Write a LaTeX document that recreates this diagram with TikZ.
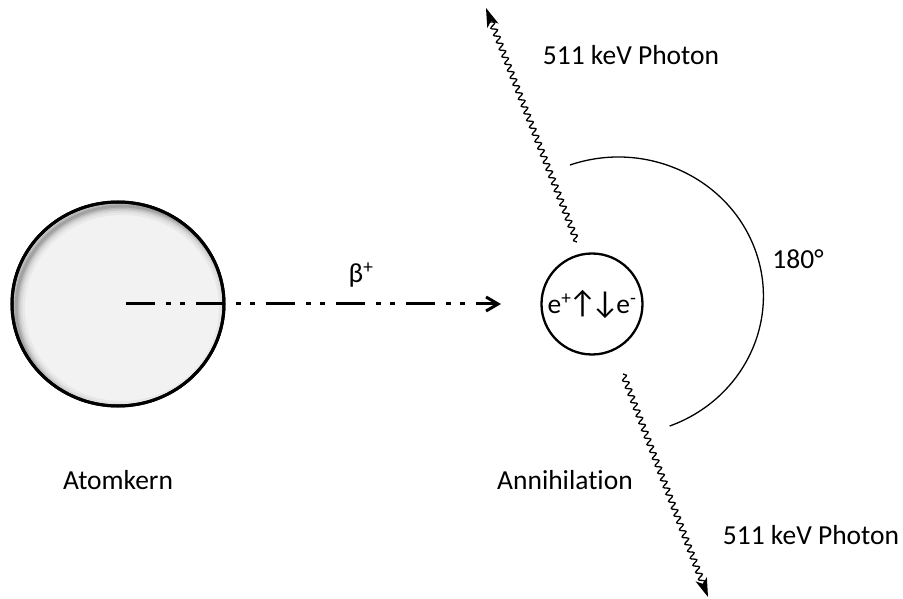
\documentclass[tikz,border=0pt]{standalone}
\usepackage{fontspec}
\setmainfont[Ligatures=NoCommon]{Carlito}
\newfontfamily\arrowfont{Lato}
\usetikzlibrary{arrows.meta,decorations.pathmorphing,shapes.geometric}
\begin{document}
\begin{tikzpicture}[x=1pt,y=1pt,
  lbl/.style={font=\fontsize{27.5}{33}\selectfont, inner sep=0pt, anchor=base},
  photon/.style={line width=1.3pt, decorate,
    decoration={snake, amplitude=2.8pt, segment length=7.6pt, post length=10pt},
    -{Stealth[length=19pt,width=12pt,inset=5pt]}},
  betaline/.style={line width=3pt, dash pattern=on 29pt off 11pt on 5pt off 9pt on 5pt off 11pt,
    -{Straight Barb[length=12pt,width=14pt,line width=3pt]}},
  nucleusshape/.style={ellipse, draw, line width=3pt, fill={rgb,255:red,242;green,242;blue,242},
    minimum width=212pt, minimum height=204pt, inner sep=0pt},
  annshape/.style={circle, draw, line width=2.3pt, minimum size=101pt, inner sep=0pt,
    font=\fontsize{27.5}{33}\selectfont},
  arcline/.style={line width=1.3pt}
]
\useasboundingbox (0,0) rectangle (903,598);
\fill[white] (0,0) rectangle (903,598);

% nucleus
\node[nucleusshape] (nucleus) at (118,294) {};
\begin{scope}
  \clip (118,294) ellipse[x radius=104.5pt, y radius=100.5pt];
  \foreach \w/\o in {18/0.04, 13/0.05, 9/0.07, 6/0.09, 3/0.12}
    \draw[line width=\w pt, black, opacity=\o] (122,290) ellipse[x radius=106pt, y radius=102pt];
\end{scope}
\draw[line width=3pt] (118,294) ellipse[x radius=106pt, y radius=102pt];

% annihilation circle
\node[annshape] (ann) at (592,294) {e\textsuperscript{+}{\arrowfont\fontsize{30}{34}\selectfont ↑↓}e\textsuperscript{-}};

% beta+ path
\coordinate (bstart) at ([xshift=8pt]nucleus.center);
\coordinate (bend) at (501,294);
\draw[betaline] (bstart) -- (bend);
\node[lbl] (betalbl) at (361,315) {β\textsuperscript{+}};

% photons
\coordinate (p1s) at (577,356);
\coordinate (p1e) at (486,590);
\coordinate (p2s) at (623,224);
\coordinate (p2e) at (708,1);
\draw[photon] (p1s) -- (p1e);
\draw[photon] (p2s) -- (p2e);

% angle arc
\coordinate (arcstart) at (570,433);
\draw[arcline] (arcstart) arc[start angle=109.5, end angle=-69.3, x radius=145pt, y radius=139pt];

% labels
\node[lbl] (ph1) at (631,533) {511 keV Photon};
\node[lbl] (ph2) at (811,54) {511 keV Photon};
\node[lbl] (atom) at (118,109) {Atomkern};
\node[lbl] (annl) at (565,109) {Annihilation};
\node[lbl] (deg) at (798,329) {180°};
\end{tikzpicture}
\end{document}
